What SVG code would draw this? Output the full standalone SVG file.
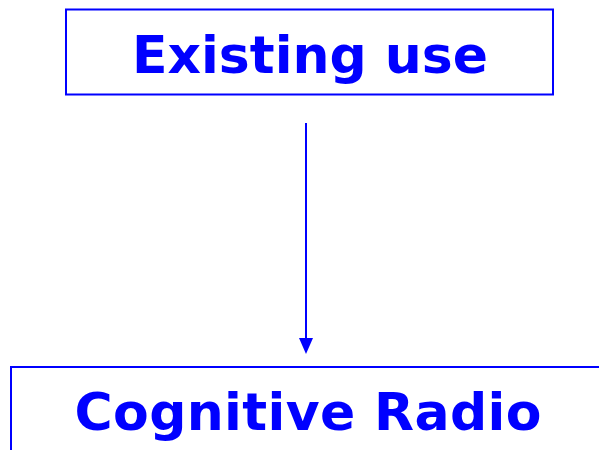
<svg xmlns="http://www.w3.org/2000/svg" width="599" height="450" viewBox="0 0 599 450">
  <style>
    .box { fill: #ffffff; stroke: #0000ff; stroke-width: 2; }
    .label { font-family: "DejaVu Sans", "Verdana", sans-serif; font-weight: bold; font-size: 52px; fill: #0000ff; text-anchor: middle; }
    .link { stroke: #0000ff; stroke-width: 2; fill: none; }
    .head { fill: #0000ff; }
  </style>
  <rect width="599" height="450" fill="#ffffff"/>
  <g id="existing-use">
    <rect class="box" x="66" y="9.5" width="487" height="85"/>
    <text class="label" x="310" y="72.5">Existing use</text>
  </g>
  <g id="cognitive-radio">
    <rect class="box" x="11" y="367" width="600" height="100"/>
    <text class="label" x="308" y="429.5" textLength="467" lengthAdjust="spacing">Cognitive Radio</text>
  </g>
  <g id="connectors">
    <line class="link" x1="306" y1="123" x2="306" y2="340"/>
    <polygon class="head" points="299,338 313,338 306,354"/>
  </g>
</svg>
